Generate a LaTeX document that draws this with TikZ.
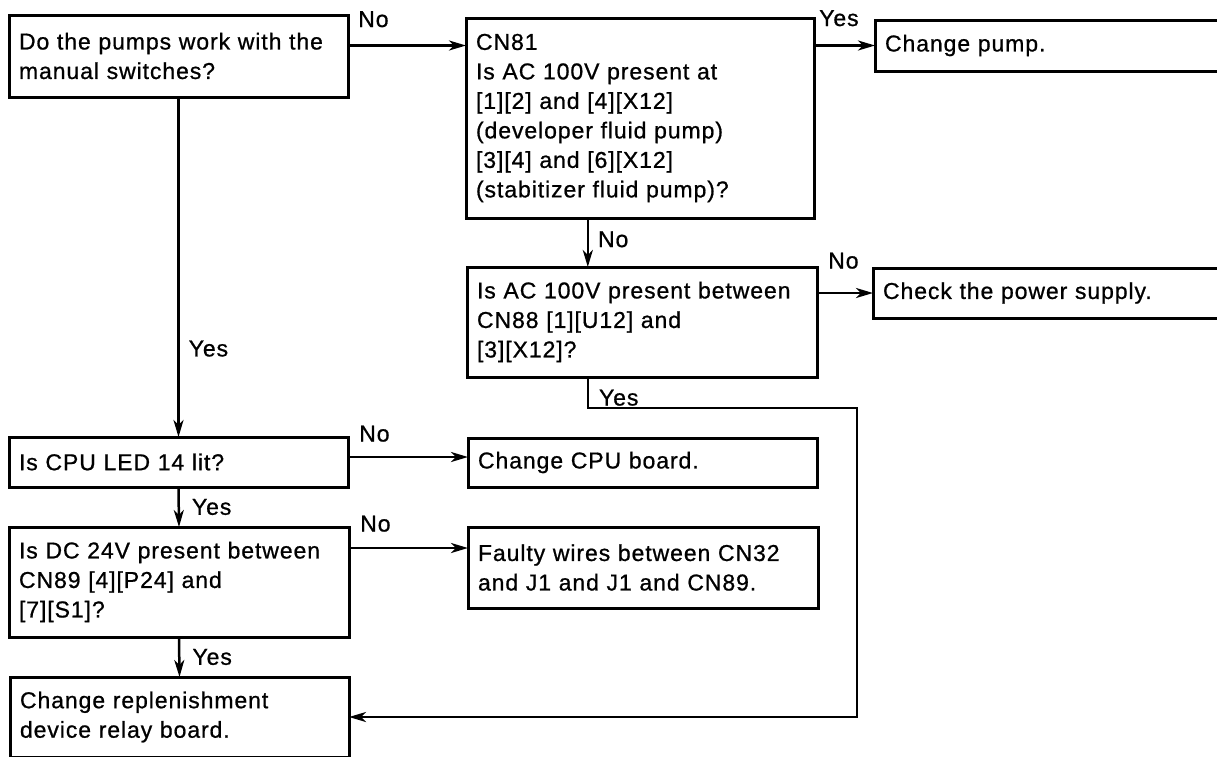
\documentclass[tikz,border=0pt]{standalone}
\usepackage{fontspec}
\setmainfont{Liberation Sans}[LetterSpace=4, FakeBold=0.8]
\usetikzlibrary{arrows.meta, positioning, calc}

\begin{document}
\begin{tikzpicture}[
    x=1pt, y=-1pt,
    box/.style={draw, line width=3pt, anchor=north west, align=left, inner xsep=10pt, inner ysep=0pt, outer sep=0pt, text width=#1, font=\fontsize{23}{29.5}\selectfont},
    lbl/.style={inner sep=0pt, font=\fontsize{23}{29.5}\selectfont},
    arr/.style={line width=2.5pt, -{Stealth[length=17pt, width=10pt, inset=5pt]}}
]
\useasboundingbox (0,0) rectangle (1217,756);
\clip (0,0) rectangle (1217,756);

\node[box=319pt, minimum height=82pt] (pumps) at (9,15) {Do the pumps work with the\\manual switches?};
\node[box=328pt, minimum height=200pt] (cn81) at (466,18) {CN81\\Is AC 100V present at\\{}[1][2] and [4][X12]\\(developer fluid pump)\\{}[3][4] and [6][X12]\\(stabitizer fluid pump)?};
\node[box=340pt, minimum height=51pt] (pump) at (875,20) {Change pump.};
\node[box=330pt, minimum height=110pt] (ac) at (467,267) {Is AC 100V present between\\CN88 [1][U12] and\\{}[3][X12]?};
\node[box=340pt, minimum height=50pt] (power) at (873,268) {Check the power supply.};
\node[box=319pt, minimum height=50pt] (led) at (9,437) {Is CPU LED 14 lit?};
\node[box=329pt, minimum height=49pt] (cpu) at (468,438) {Change CPU board.};
\node[box=320pt, minimum height=110pt] (dc) at (9,527) {Is DC 24V present between\\CN89 [4][P24] and\\{}[7][S1]?};
\node[box=330pt, minimum height=81pt] (wires) at (468,527) {Faulty wires between CN32\\and J1 and J1 and CN89.};
\node[box=319pt, minimum height=80pt] (relay) at (10,677) {Change replenishment\\device relay board.};

% top row
\draw[arr] (pumps.east |- pump.west) node[lbl, above right=17pt and 9pt] {No} -- (cn81.west |- pump.west);
\draw[arr] (cn81.east |- pump.west) node[lbl, above right=18pt and 4pt] {Yes} -- (pump.west);

\coordinate (split) at ($(cn81.south west)!.35!(cn81.south east)$);
\coordinate (turn) at (857,408);
\draw[arr] (split) node[lbl, below right=12pt and 9pt] {No} -- (split |- ac.north);
\draw[arr] (ac.east |- power.west) node[lbl, above right=23pt and 10pt] {No} -- (power.west);
\draw[arr] (split |- ac.south) |- node[lbl, pos=.5, above right=1pt and 10pt] {Yes} (turn) |- (relay.east);

% left column
\coordinate (ledno) at ($(led.north east)+(0,20)$);
\coordinate (dcno) at ($(dc.north east)+(0,21)$);
\draw[arr] (pumps.south) -- node[lbl, pos=.74, right=9pt] {Yes} (led.north);
\draw[arr] (ledno) node[lbl, above right=14pt and 10pt] {No} -- (ledno -| cpu.west);
\draw[arr] (led.south) -- node[lbl, right=12pt] {Yes} (dc.north);
\draw[arr] (dcno) node[lbl, above right=15pt and 10pt] {No} -- (dcno -| wires.west);
\draw[arr] (dc.south) -- node[lbl, right=12pt] {Yes} (relay.north);
\end{tikzpicture}
\end{document}
